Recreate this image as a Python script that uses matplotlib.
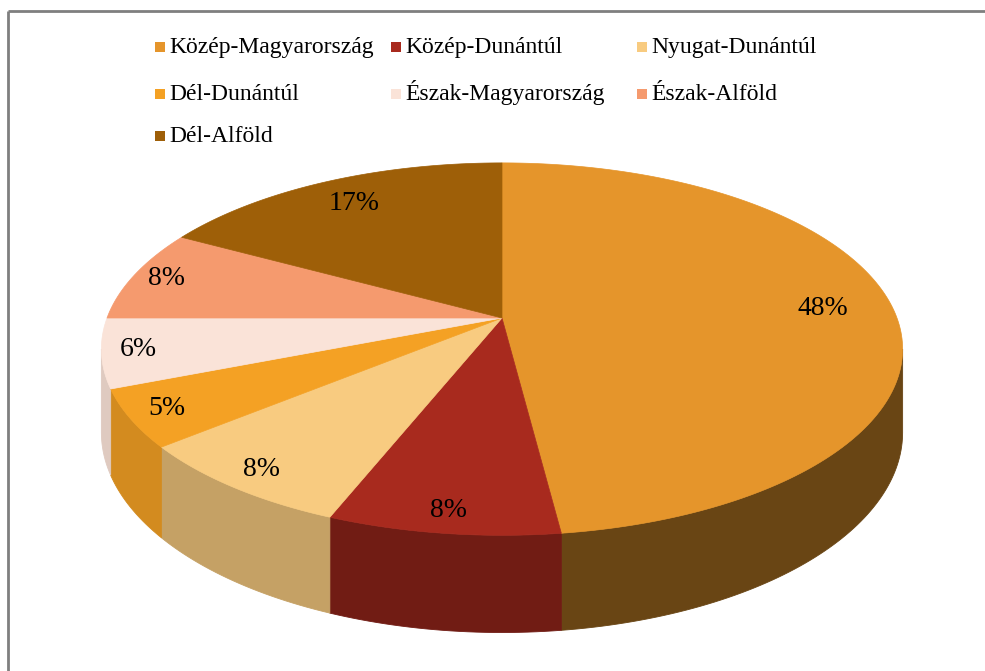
import numpy as np
import matplotlib
matplotlib.use("Agg")
import matplotlib.pyplot as plt
from matplotlib.patches import Polygon, Rectangle

# data
regions = ["Közép-Magyarország", "Közép-Dunántúl", "Nyugat-Dunántúl",
           "Dél-Dunántúl", "Észak-Magyarország", "Észak-Alföld", "Dél-Alföld"]
shares = [48, 8, 8, 5, 6, 8, 17]
colors = ["#E5952B", "#A82A1E", "#F8CB80", "#F4A124", "#FAE3D8", "#F59A6E", "#9E5F08"]

# pie geometry (pixel space, perspective tilt)
CX, CY = 502, 318
SX, SY = 395, 181
K = 0.167
DEPTH = 81

plt.rcParams["font.family"] = ["Liberation Serif", "DejaVu Serif"]

fig = plt.figure(figsize=(9.85, 6.71), dpi=100)
ax = fig.add_axes([0, 0, 1, 1])
ax.set_xlim(0, 985)
ax.set_ylim(671, 0)
ax.axis("off")


def proj(t, r=1.0, bottom=False):
    u = r * np.cos(np.radians(t))
    v = r * np.sin(np.radians(t))
    w = 1 + K * v
    x = CX + SX * u / w
    y = CY - SY * v / w
    if bottom:
        y = y + DEPTH / w
    return x, y


def shade(hex_color, f):
    rgb = np.array(matplotlib.colors.to_rgb(hex_color))
    return tuple(np.clip(rgb * f, 0, 1))


total = sum(shares)
starts = []
ends = []
cum = 0
for s in shares:
    starts.append(90 - 360 * cum / total)
    cum += s
    ends.append(90 - 360 * cum / total)

# silhouette angle of the tilted cylinder
sil = np.degrees(np.arcsin(K))

# side walls (front half only), one shade per slice
for st, en, col in zip(starts, ends, colors):
    lo = max(en, -180 + sil)
    hi = min(st, -sil)
    if hi <= lo:
        continue
    tm = 0.5 * (lo + hi)
    f = max(0.45, 0.64 - 0.26 * np.cos(np.radians(tm)))
    c = shade(col, f)
    ts = np.linspace(lo, hi, max(3, int(hi - lo) + 1))
    xt, yt = proj(ts)
    xb, yb = proj(ts[::-1], bottom=True)
    pts = list(zip(xt, yt)) + list(zip(xb, yb))
    ax.add_patch(Polygon(pts, closed=True, facecolor=c, edgecolor=c, lw=0.6))

# top faces
for st, en, col in zip(starts, ends, colors):
    ts = np.linspace(st, en, max(3, int(abs(st - en)) + 1))
    xs, ys = proj(ts)
    pts = [(CX, CY)] + list(zip(xs, ys))
    ax.add_patch(Polygon(pts, closed=True, facecolor=col, edgecolor=col, lw=0.5))

# percentage labels
for st, en, s in zip(starts, ends, shares):
    mid = 0.5 * (st + en)
    r = 0.82 if s / total > 0.1 else 0.91
    x, y = proj(mid, r)
    ax.text(x, y, f"{s}%", fontsize=20, ha="center", va="center", color="black")

# legend (3 columns, row-major like Excel)
col_x = [155, 391, 637]
row_y = [47, 94, 136]
for i, (name, col) in enumerate(zip(regions, colors)):
    cx = col_x[i % 3]
    cy = row_y[i // 3]
    ax.add_patch(Rectangle((cx, cy - 5), 10, 10, facecolor=col, edgecolor="none"))
    ax.text(cx + 14, cy + 6, name, fontsize=17, ha="left", va="baseline", color="black")

# chart border (top and left visible)
ax.plot([8, 985], [11, 11], color="#7f7f7f", lw=2, solid_capstyle="butt")
ax.plot([8, 8], [11, 671], color="#7f7f7f", lw=2, solid_capstyle="butt")

fig.savefig("out.png", dpi=100)
